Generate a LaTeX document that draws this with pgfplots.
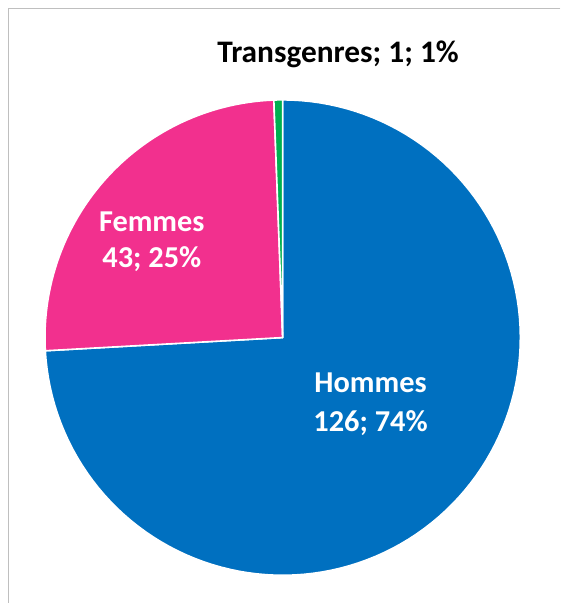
\documentclass[border=0pt]{standalone}
\usepackage{fontspec}
\setmainfont{Carlito}
\usepackage{pgfplots}
\usepackage{pgfplotstable}
\pgfplotsset{compat=1.18}
\definecolor{cHom}{RGB}{0,112,192}
\definecolor{cFem}{RGB}{242,48,142}
\definecolor{cTra}{RGB}{0,176,80}
\definecolor{cFrame}{RGB}{191,191,191}
\pgfplotstableread{
label value
Hommes 126
Femmes 43
Transgenres 1
}\piedata
\begin{document}
\begin{tikzpicture}
\pgfplotstablegetelem{0}{value}\of\piedata \let\vH\pgfplotsretval
\pgfplotstablegetelem{1}{value}\of\piedata \let\vF\pgfplotsretval
\pgfplotstablegetelem{2}{value}\of\piedata \let\vT\pgfplotsretval
\pgfmathsetmacro\tot{\vH+\vF+\vT}
\pgfmathsetmacro\aA{90-360*(\vH/\tot)}
\pgfmathsetmacro\aB{\aA-360*(\vF/\tot)}
\pgfmathsetmacro\aC{\aB-360*(\vT/\tot)}
\def\cx{283}\def\cy{266}\def\R{238}
\begin{axis}[
  x=1bp, y=1bp, xmin=0, xmax=561, ymin=0, ymax=604,
  hide axis, clip=false, scale only axis,
]
\path (axis cs:0,0) rectangle (axis cs:561,604);
\addplot[fill=cHom, draw=white, line width=1.6bp, line join=round, domain=\aA:90, samples=120]
  ({\cx+\R*cos(x)},{\cy+\R*sin(x)}) -- (axis cs:\cx,\cy) -- cycle;
\addplot[fill=cFem, draw=white, line width=1.6bp, line join=round, domain=\aB:\aA, samples=60]
  ({\cx+\R*cos(x)},{\cy+\R*sin(x)}) -- (axis cs:\cx,\cy) -- cycle;
\addplot[fill=cTra, draw=white, line width=1.6bp, line join=round, domain=\aC:\aB, samples=6]
  ({\cx+\R*cos(x)},{\cy+\R*sin(x)}) -- (axis cs:\cx,\cy) -- cycle;
\draw[cFrame, line width=1.5bp] (axis cs:561,595.5) -- (axis cs:8.5,595.5) -- (axis cs:8.5,0);
\begin{scope}[every node/.style={font=\fontsize{30.5}{36}\selectfont\bfseries, anchor=base, inner sep=0pt}]
\node[black, font=\fontsize{31.5}{36}\selectfont\bfseries] at (axis cs:338.5,541) {Transgenres; 1; 1\%};
\node[white] at (axis cs:152,372) {Femmes};
\node[white] at (axis cs:152,336) {43; 25\%};
\node[white] at (axis cs:371,211) {Hommes};
\node[white] at (axis cs:371,172) {126; 74\%};
\end{scope}
\end{axis}
\end{tikzpicture}
\end{document}
